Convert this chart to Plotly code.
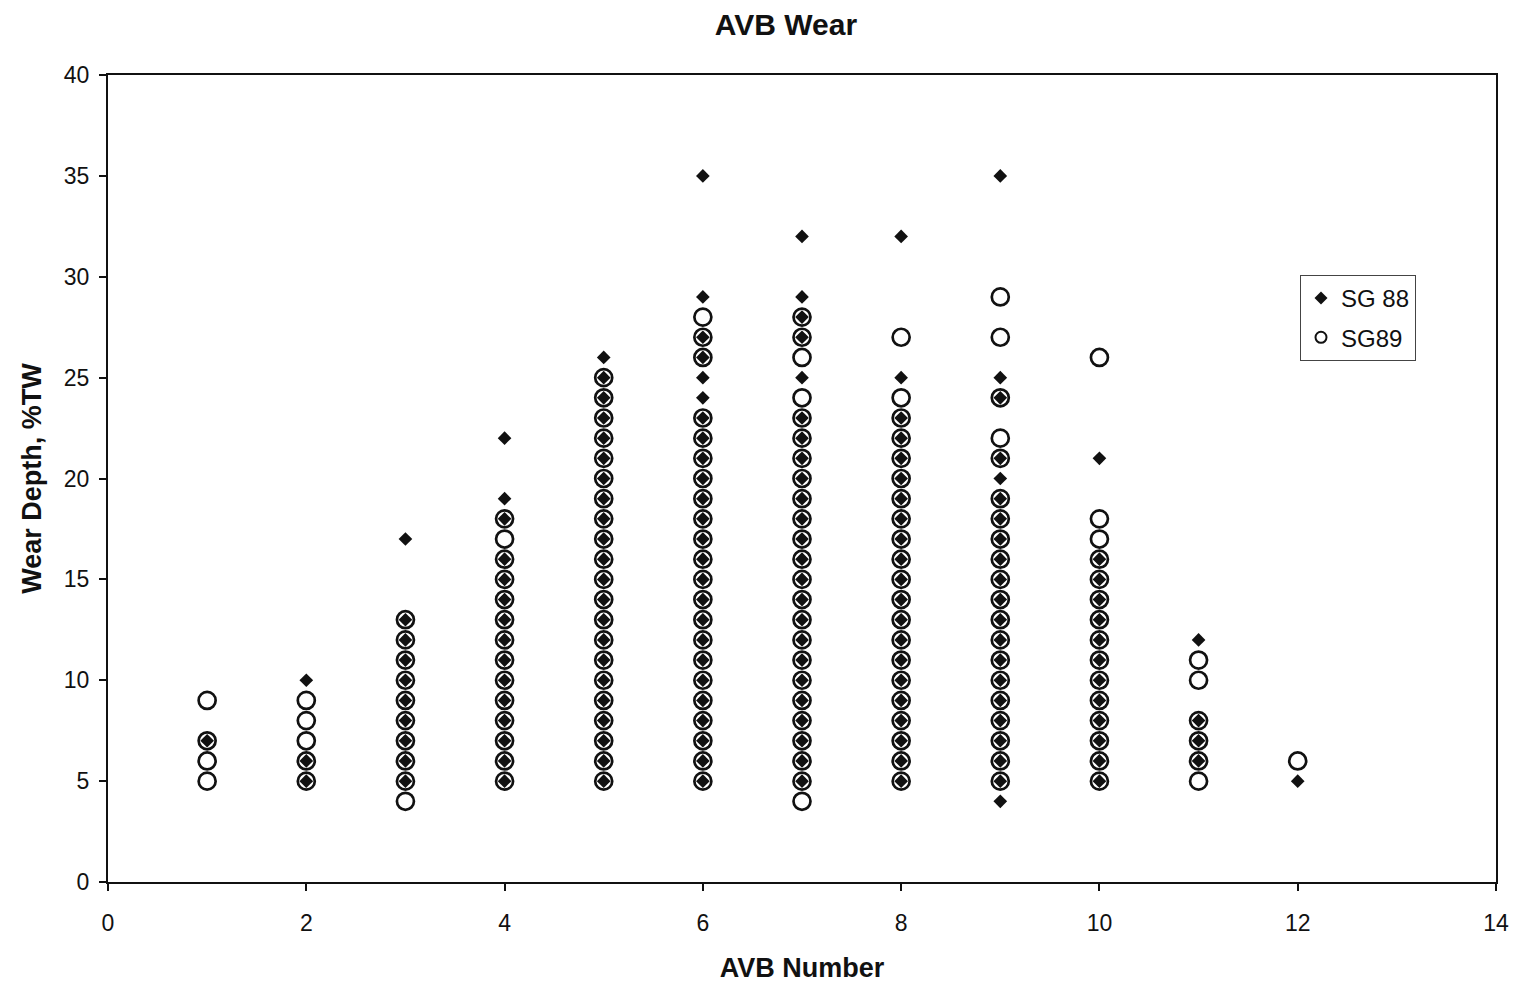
import plotly.graph_objects as go

avb_numbers = [1, 2, 3, 4, 5, 6, 7, 8, 9, 10, 11, 12]

# SG 88 wear depths (%TW) per AVB number
sg88_avb1 = [7]
sg88_avb2 = [5, 6, 10]
sg88_avb3 = [5, 6, 7, 8, 9, 10, 11, 12, 13, 17]
sg88_avb4 = [5, 6, 7, 8, 9, 10, 11, 12, 13, 14, 15, 16, 18, 19, 22]
sg88_avb5 = [5, 6, 7, 8, 9, 10, 11, 12, 13, 14, 15, 16, 17, 18, 19, 20, 21, 22, 23, 24, 25, 26]
sg88_avb6 = [5, 6, 7, 8, 9, 10, 11, 12, 13, 14, 15, 16, 17, 18, 19, 20, 21, 22, 23, 24, 25, 26, 27, 29, 35]
sg88_avb7 = [5, 6, 7, 8, 9, 10, 11, 12, 13, 14, 15, 16, 17, 18, 19, 20, 21, 22, 23, 25, 27, 28, 29, 32]
sg88_avb8 = [5, 6, 7, 8, 9, 10, 11, 12, 13, 14, 15, 16, 17, 18, 19, 20, 21, 22, 23, 25, 32]
sg88_avb9 = [4, 5, 6, 7, 8, 9, 10, 11, 12, 13, 14, 15, 16, 17, 18, 19, 20, 21, 24, 25, 35]
sg88_avb10 = [5, 6, 7, 8, 9, 10, 11, 12, 13, 14, 15, 16, 21]
sg88_avb11 = [6, 7, 8, 12]
sg88_avb12 = [5]

# SG89 wear depths (%TW) per AVB number
sg89_avb1 = [5, 6, 7, 9]
sg89_avb2 = [5, 6, 7, 8, 9]
sg89_avb3 = [4, 5, 6, 7, 8, 9, 10, 11, 12, 13]
sg89_avb4 = [5, 6, 7, 8, 9, 10, 11, 12, 13, 14, 15, 16, 17, 18]
sg89_avb5 = [5, 6, 7, 8, 9, 10, 11, 12, 13, 14, 15, 16, 17, 18, 19, 20, 21, 22, 23, 24, 25]
sg89_avb6 = [5, 6, 7, 8, 9, 10, 11, 12, 13, 14, 15, 16, 17, 18, 19, 20, 21, 22, 23, 26, 27, 28]
sg89_avb7 = [4, 5, 6, 7, 8, 9, 10, 11, 12, 13, 14, 15, 16, 17, 18, 19, 20, 21, 22, 23, 24, 26, 27, 28]
sg89_avb8 = [5, 6, 7, 8, 9, 10, 11, 12, 13, 14, 15, 16, 17, 18, 19, 20, 21, 22, 23, 24, 27]
sg89_avb9 = [5, 6, 7, 8, 9, 10, 11, 12, 13, 14, 15, 16, 17, 18, 19, 21, 22, 24, 27, 29]
sg89_avb10 = [5, 6, 7, 8, 9, 10, 11, 12, 13, 14, 15, 16, 17, 18, 26]
sg89_avb11 = [5, 6, 7, 8, 10, 11]
sg89_avb12 = [6]

sg88_cols = [sg88_avb1, sg88_avb2, sg88_avb3, sg88_avb4, sg88_avb5, sg88_avb6,
             sg88_avb7, sg88_avb8, sg88_avb9, sg88_avb10, sg88_avb11, sg88_avb12]
sg89_cols = [sg89_avb1, sg89_avb2, sg89_avb3, sg89_avb4, sg89_avb5, sg89_avb6,
             sg89_avb7, sg89_avb8, sg89_avb9, sg89_avb10, sg89_avb11, sg89_avb12]

x_ticks = [0, 2, 4, 6, 8, 10, 12, 14]
y_ticks = [0, 5, 10, 15, 20, 25, 30, 35, 40]


def flatten(cols):
    xs, ys = [], []
    for n, vals in zip(avb_numbers, cols):
        for v in vals:
            xs.append(n)
            ys.append(v)
    return xs, ys


x88, y88 = flatten(sg88_cols)
x89, y89 = flatten(sg89_cols)

FONT = "Liberation Sans, Arial, sans-serif"
INK = "#111111"

fig = go.Figure()
fig.add_trace(go.Scatter(
    x=x89, y=y89, mode="markers", name="SG89", showlegend=False,
    marker=dict(symbol="circle", size=17, color="rgba(255,255,255,0)",
                line=dict(color=INK, width=2.7)),
))
fig.add_trace(go.Scatter(
    x=x88, y=y88, mode="markers", name="SG 88", showlegend=False,
    marker=dict(symbol="diamond", size=10.5, color=INK,
                line=dict(color=INK, width=0)),
))
# legend entries
fig.add_trace(go.Scatter(
    x=[None], y=[None], mode="markers", name="SG 88", legendgroup="a",
    marker=dict(symbol="diamond", size=10, color=INK),
))
fig.add_trace(go.Scatter(
    x=[None], y=[None], mode="markers", name="SG89", legendgroup="b",
    marker=dict(symbol="circle", size=11, color="white",
                line=dict(color=INK, width=2)),
))

fig.update_layout(
    width=1516, height=986,
    margin=dict(l=108, r=20, t=75, b=104, autoexpand=False),
    paper_bgcolor="white", plot_bgcolor="white",
    font=dict(family=FONT, size=23, color=INK),
    title=dict(text="<b>AVB Wear</b>", x=786 / 1516, xanchor="center",
               y=1 - 24 / 986, yanchor="middle",
               font=dict(family=FONT, size=30, color=INK)),
    legend=dict(x=(1300 - 108) / 1388, y=(882 - 275) / 807,
                xanchor="left", yanchor="top",
                bordercolor="#444444", borderwidth=1, bgcolor="white",
                font=dict(family=FONT, size=24, color=INK),
                itemwidth=30, tracegroupgap=5),
    showlegend=True,
)
fig.update_xaxes(
    range=[0, 14], tickvals=x_ticks, ticktext=[str(t) for t in x_ticks],
    showgrid=False, zeroline=False, automargin=False,
    showline=True, mirror=True, linecolor=INK, linewidth=2,
    ticks="outside", ticklen=7, tickwidth=1.5, tickcolor=INK,
    ticklabelstandoff=12,
    tickfont=dict(family=FONT, size=23, color=INK),
    title=dict(text="<b>AVB Number</b>", standoff=24,
               font=dict(family=FONT, size=27, color=INK)),
)
fig.update_yaxes(
    range=[0, 40], tickvals=y_ticks, ticktext=[str(t) for t in y_ticks],
    showgrid=False, zeroline=False, automargin=False,
    showline=True, mirror=True, linecolor=INK, linewidth=2,
    ticks="outside", ticklen=7, tickwidth=1.5, tickcolor=INK,
    ticklabelstandoff=5,
    tickfont=dict(family=FONT, size=23, color=INK),
    title=dict(text="<b>Wear Depth, %TW</b>", standoff=14,
               font=dict(family=FONT, size=27, color=INK)),
)

fig.write_html("out.html")
